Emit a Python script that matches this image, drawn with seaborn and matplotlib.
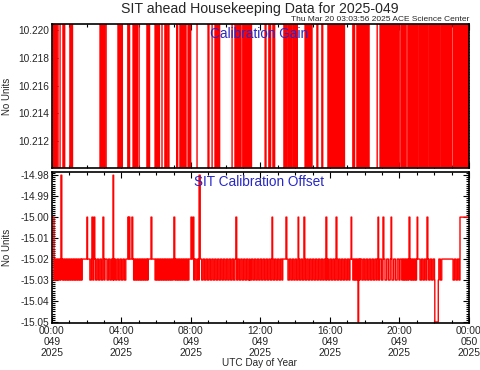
import numpy as np
import pandas as pd
import matplotlib
matplotlib.use("Agg")
import matplotlib.pyplot as plt
from matplotlib.ticker import MultipleLocator, FormatStrFormatter
import seaborn as sns

# ---- data (hours of day 049) ----
# calibration gain flips between two levels, both outside the plotted range;
# spans where it flips rapidly (start_h, end_h)
gain_levels = [10.2211, 10.2093]
gain_spans = [
    (0.06, 0.29), (0.35, 0.40), (0.46, 0.52), (0.63, 0.75), (1.04, 1.21),
    (2.76, 2.94), (2.99, 3.05), (3.11, 3.17), (3.80, 4.09), (4.37, 4.49),
    (4.66, 4.95), (5.01, 5.06), (5.47, 5.64), (5.93, 6.22), (6.33, 6.39),
    (6.50, 6.62), (6.68, 6.79), (7.19, 7.25), (7.37, 7.77), (7.83, 8.00),
    (8.35, 8.40), (8.98, 9.09), (9.21, 9.27), (9.38, 9.50), (9.55, 9.67),
    (10.36, 10.42), (10.53, 10.94), (10.99, 11.51), (12.26, 12.37),
    (12.49, 12.60), (12.72, 12.83), (13.35, 13.53), (13.58, 13.81),
    (13.87, 14.16), (14.56, 15.02), (15.25, 15.31), (15.54, 15.60),
    (15.88, 16.86), (17.32, 17.44), (17.55, 18.30), (18.71, 18.76),
    (18.88, 20.03), (20.09, 20.43), (20.49, 21.06), (21.12, 21.64),
    (21.70, 22.33), (22.39, 23.02), (23.08, 24.00),
]
gain_flip_min = 3

# calibration offset: baseline, flicker spans (start_h, end_h, flip period min)
offset_base = -15.02
offset_low = -15.03
offset_spans = [
    (0.00, 1.73, 3), (2.19, 3.05, 5), (3.17, 4.32, 5), (4.60, 5.53, 3),
    (5.93, 7.94, 3), (8.12, 11.40, 5), (11.40, 13.29, 5), (13.58, 17.15, 5),
    (17.32, 17.73, 3), (17.84, 18.71, 5), (18.76, 20.03, 6), (20.14, 21.01, 3),
    (21.18, 22.45, 5), (23.08, 23.88, 5),
]
# isolated excursions (start_h, end_h, value)
offset_spikes = [
    (0.00, 0.10, -15.00), (0.52, 0.55, -14.98), (2.01, 2.04, -15.00),
    (2.30, 2.33, -15.00), (2.42, 2.45, -15.00), (2.94, 2.97, -15.00),
    (3.51, 3.54, -14.98), (4.37, 4.40, -15.00), (4.43, 4.46, -15.00),
    (4.60, 4.63, -15.00), (5.70, 5.73, -15.00), (7.02, 7.05, -15.00),
    (8.00, 8.03, -15.00), (8.12, 8.15, -15.00), (8.46, 8.52, -14.98),
    (10.59, 10.62, -15.00), (12.66, 12.69, -15.00), (13.47, 13.50, -15.00),
    (14.16, 14.19, -15.00), (14.50, 14.53, -15.00), (15.77, 15.80, -15.00),
    (16.35, 16.38, -15.00), (17.21, 17.24, -15.00), (17.61, 17.64, -15.05),
    (18.76, 18.79, -15.00), (19.05, 19.08, -15.00), (19.51, 19.54, -15.00),
    (20.55, 20.58, -15.00), (21.01, 21.04, -15.00), (21.58, 21.61, -15.00),
    (22.04, 22.22, -15.05), (23.48, 24.00, -15.00),
]

tick_hours = [0, 4, 8, 12, 16, 20, 24]
tick_labels = ["00:00\n049\n2025", "04:00\n049\n2025", "08:00\n049\n2025",
               "12:00\n049\n2025", "16:00\n049\n2025", "20:00\n049\n2025",
               "00:00\n050\n2025"]

# ---- build minute series ----
minutes = np.arange(24 * 60 + 1)
hours = minutes / 60.0

gain = np.empty(len(minutes))
state = 0
pos = 0
for s, e in gain_spans:
    m0, m1 = int(round(s * 60)), int(round(e * 60))
    gain[pos:m0] = gain_levels[state]
    for m in range(m0, max(m1, m0 + 1), gain_flip_min):
        state = 1 - state
        gain[m:min(m + gain_flip_min, m1 + 1)] = gain_levels[state]
    pos = max(m1, m0 + 1)
gain[pos:] = gain_levels[state]

offset = np.full(len(minutes), offset_base)
for s, e, p in offset_spans:
    m0, m1 = int(round(s * 60)), int(round(e * 60))
    for k, m in enumerate(range(m0, m1, p)):
        if k % 2 == 0:
            offset[m:min(m + p, m1)] = offset_low
for s, e, v in offset_spikes:
    m0, m1 = int(round(s * 60)), int(round(e * 60))
    offset[m0:max(m1, m0 + 1) + 1] = v

df_gain = pd.DataFrame({"hour": hours, "value": gain})
df_off = pd.DataFrame({"hour": hours, "value": offset})

# ---- plotting ----
sns.set_style("ticks")
plt.rcParams["font.family"] = ["Liberation Sans", "DejaVu Sans"]

fig = plt.figure(figsize=(4.81, 3.70), dpi=100)
ax1 = fig.add_axes([0.108, 0.546, 0.867, 0.389])
ax2 = fig.add_axes([0.108, 0.127, 0.867, 0.408])

sns.lineplot(data=df_gain, x="hour", y="value", ax=ax1, estimator=None,
             sort=False, drawstyle="steps-post", color="red", lw=1)
sns.lineplot(data=df_off, x="hour", y="value", ax=ax2, estimator=None,
             sort=False, drawstyle="steps-post", color="red", lw=1)

ax1.set_ylim(10.2101, 10.2204)
ax2.set_ylim(-15.0505, -14.9785)
ax1.yaxis.set_major_locator(MultipleLocator(0.002))
ax1.yaxis.set_minor_locator(MultipleLocator(0.0002))
ax1.yaxis.set_major_formatter(FormatStrFormatter("%.3f"))
ax2.yaxis.set_major_locator(MultipleLocator(0.01))
ax2.yaxis.set_minor_locator(MultipleLocator(0.001))
ax2.yaxis.set_major_formatter(FormatStrFormatter("%.2f"))

for ax in (ax1, ax2):
    ax.set_xlim(0, 24)
    ax.set_xticks(tick_hours)
    ax.xaxis.set_minor_locator(MultipleLocator(1))
    ax.tick_params(which="both", direction="in", top=True, right=True,
                   labelsize=7.3, width=0.8, color="black", pad=2)
    ax.tick_params(which="major", length=4)
    ax.tick_params(which="minor", length=2)
    ax.set_xlabel("")
    ax.set_ylabel("No Units", fontsize=7)
    ax.yaxis.set_label_coords(-0.095, 0.5)
    for sp in ax.spines.values():
        sp.set_linewidth(1.2)
        sp.set_color("black")

ax1.set_xticklabels([])
ax2.set_xticklabels(tick_labels, fontsize=7.4, linespacing=1.15)

ax1.text(0.496, 0.93, "Calibration Gain", transform=ax1.transAxes,
         ha="center", va="center", fontsize=9.8, color="#2828c8")
ax2.text(0.496, 0.934, "SIT Calibration Offset", transform=ax2.transAxes,
         ha="center", va="center", fontsize=9.8, color="#2828c8")

fig.text(0.54, 1 - 8.5 / 370, "SIT ahead Housekeeping Data for 2025-049",
         ha="center", va="center", fontsize=10.2)
fig.text(469 / 481, 1 - 19.5 / 370, "Thu Mar 20 03:03:56 2025 ACE Science Center",
         ha="right", va="center", fontsize=6.0)
fig.text(0.54, 1 - 363 / 370, "UTC Day of Year", ha="center", va="center",
         fontsize=7.2)

fig.savefig("out.png", dpi=100)
